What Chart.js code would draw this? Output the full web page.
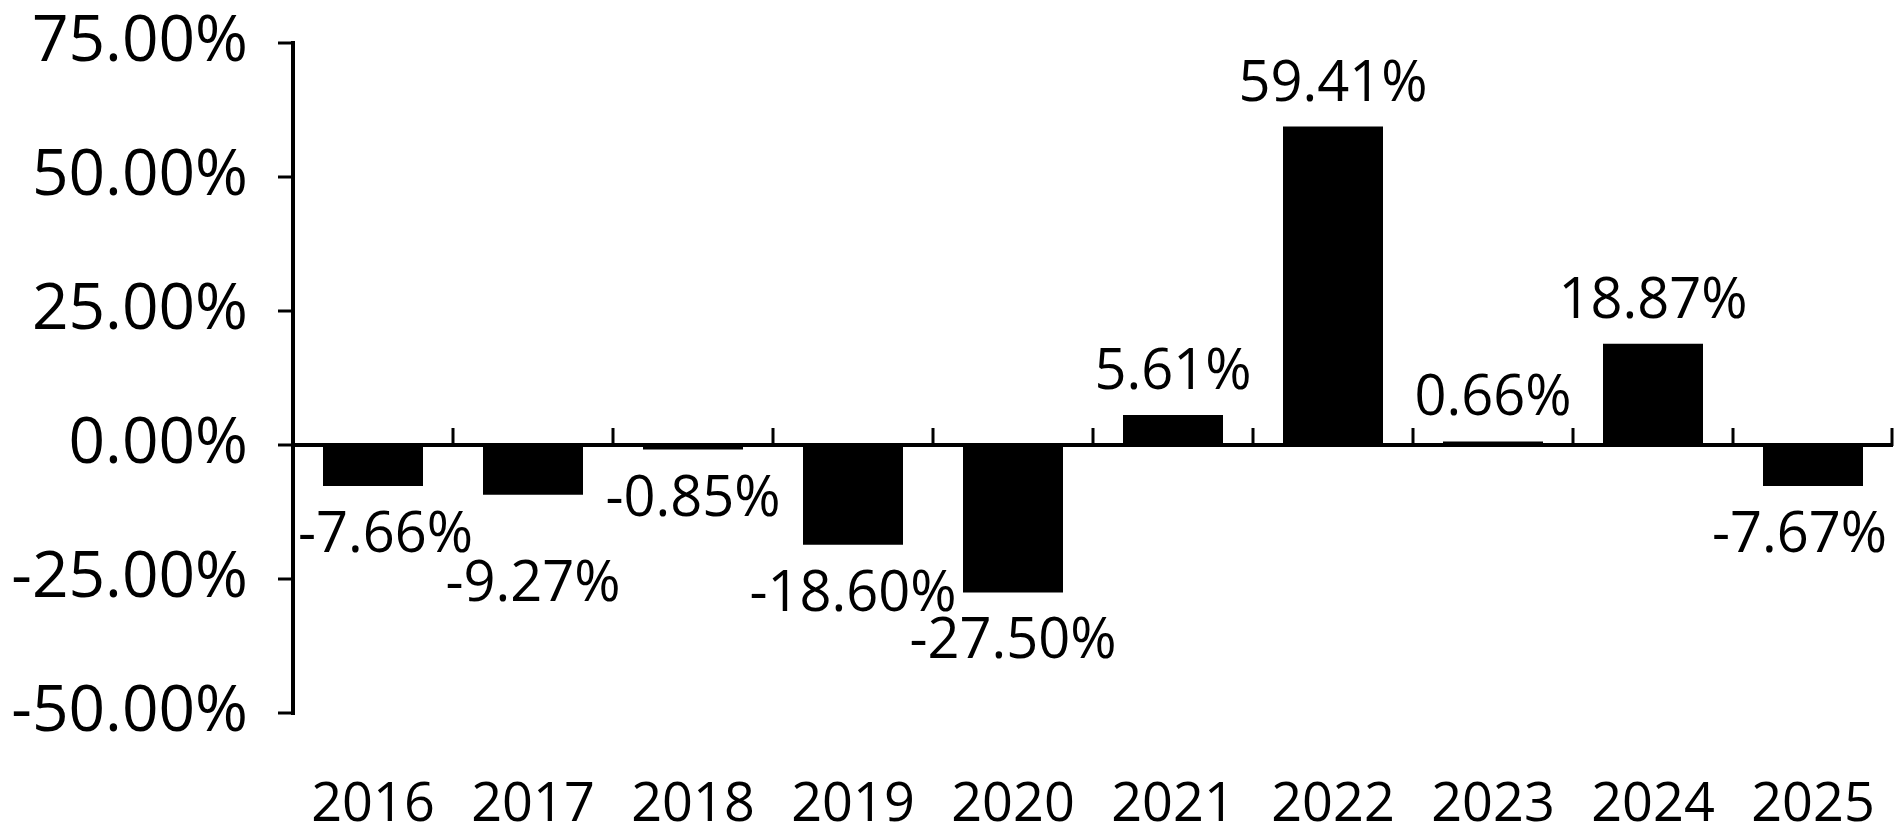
<!DOCTYPE html>
<html>
  <head>
    <meta charset="utf-8">
    <title>Annual returns</title>
    <script src="https://cdn.jsdelivr.net/npm/chart.js@4/dist/chart.umd.min.js"></script>
    <style>
      html, body { margin: 0; padding: 0; background: #ffffff; }
      #wrap { width: 1900px; height: 833px; }
    </style>
  </head>
  <body>
    <div id="wrap"><canvas id="myCanvas"></canvas></div>
    <script>
var years = ['2016', '2017', '2018', '2019', '2020', '2021', '2022', '2023', '2024', '2025'];
var returns = [-7.66, -9.27, -0.85, -18.60, -27.50, 5.61, 59.41, 0.66, 18.87, -7.67];
var yTicks = [-50, -25, 0, 25, 50, 75];

var FONT = "'Open Sans', sans-serif";

function pct(v) {
    return v.toFixed(2) + '%';
}

// little tick marks going up from the zero line, between the categories
var categoryTicks = {
    id: 'categoryTicks',
    afterDatasetsDraw: function (chart) {
        var x = chart.scales.x;
        var y0 = chart.scales.y.getPixelForValue(0);
        var ctx = chart.ctx;
        var n = years.length;
        ctx.save();
        ctx.strokeStyle = '#000';
        ctx.lineWidth = 3;
        for (var i = 0; i <= n; i++) {
            var px;
            if (i === 0) px = x.left;
            else if (i === n) px = x.right - 1;
            else px = (x.getPixelForValue(i - 1) + x.getPixelForValue(i)) / 2;
            ctx.beginPath();
            ctx.moveTo(px, y0 + 1);
            ctx.lineTo(px, y0 - 17);
            ctx.stroke();
        }
        ctx.restore();
    }
};

// value labels above / below each bar, a label that would run into
// the one before it gets moved under it
var barLabels = {
    id: 'barLabels',
    afterDatasetsDraw: function (chart) {
        var ctx = chart.ctx;
        var area = chart.chartArea;
        var meta = chart.getDatasetMeta(0);
        var capH = 40;
        var prev = null;
        ctx.save();
        ctx.font = '56px ' + FONT;
        ctx.fillStyle = '#000';
        ctx.textAlign = 'left';
        ctx.textBaseline = 'alphabetic';
        meta.data.forEach(function (bar, i) {
            var v = returns[i];
            var txt = pct(v);
            var w = ctx.measureText(txt).width;
            var left = bar.x - w / 2;
            if (left < area.left + 5) left = area.left + 5;
            if (left + w > area.right - 6) left = area.right - 6 - w;
            var top = v >= 0 ? bar.y - 26 - capH : bar.y + 26;
            if (prev && v < 0 && left < prev.right && top < prev.bottom && top + capH > prev.top) {
                top = prev.bottom + 9;
            }
            ctx.fillText(txt, left, top + capH);
            prev = { left: left, right: left + w, top: top, bottom: top + capH };
        });
        ctx.restore();
    }
};

var ctx = document.getElementById('myCanvas').getContext('2d');
var myChart = new Chart(ctx, {
    type: 'bar',
    data: {
        labels: years,
        datasets: [{
            data: returns,
            backgroundColor: '#000000',
            borderWidth: 0,
            barPercentage: 0.625,
            categoryPercentage: 1.0
        }]
    },
    options: {
        responsive: true,
        maintainAspectRatio: false,
        animation: false,
        events: [],
        layout: {
            padding: { top: 43, right: 7, bottom: 0, left: 0 }
        },
        plugins: {
            legend: { display: false },
            tooltip: { enabled: false }
        },
        scales: {
            x: {
                position: 'bottom',
                border: { display: false },
                // invisible tick marks, only used to push the year labels down
                grid: {
                    display: true,
                    drawOnChartArea: false,
                    drawTicks: true,
                    tickLength: 60,
                    tickColor: 'rgba(0,0,0,0)'
                },
                ticks: {
                    color: '#000',
                    padding: 0,
                    maxRotation: 0,
                    autoSkip: false,
                    font: { family: FONT, size: 54, lineHeight: 1.2 }
                },
                afterFit: function (scale) {
                    scale.height = 120;
                }
            },
            y: {
                min: -50,
                max: 75,
                afterBuildTicks: function (scale) {
                    scale.ticks = yTicks.map(function (v) { return { value: v }; });
                },
                border: { display: true, color: '#000', width: 4 },
                grid: {
                    drawTicks: true,
                    tickLength: 15,
                    tickWidth: 3,
                    tickColor: '#000',
                    lineWidth: 4,
                    color: function (c) {
                        return c.tick && c.tick.value === 0 ? '#000' : 'rgba(0,0,0,0)';
                    }
                },
                ticks: {
                    color: '#000',
                    padding: 30,
                    font: { family: FONT, size: 64, lineHeight: 0.2 },
                    callback: function (v) { return pct(v); }
                },
                afterFit: function (scale) {
                    scale.width = 293;
                }
            }
        }
    },
    plugins: [categoryTicks, barLabels]
});
    </script>
  </body>
</html>
